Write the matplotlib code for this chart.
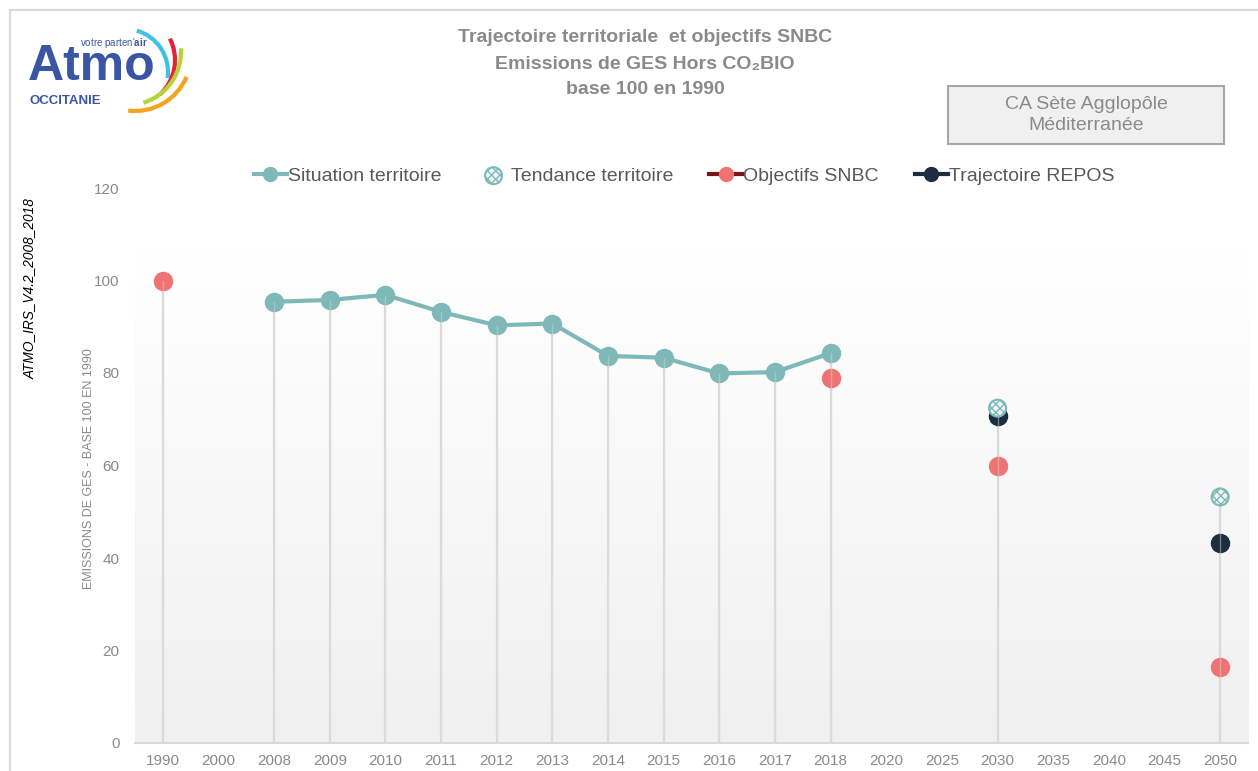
import numpy as np
import matplotlib
matplotlib.use('Agg')
import matplotlib.pyplot as plt
from matplotlib.lines import Line2D
from matplotlib.patches import Arc, Rectangle
from matplotlib.colors import LinearSegmentedColormap

nan = np.nan

# categories on the x axis
years = ['1990', '2000', '2008', '2009', '2010', '2011', '2012', '2013', '2014', '2015',
         '2016', '2017', '2018', '2020', '2025', '2030', '2035', '2040', '2045', '2050']

# values (base 100 in 1990)
situation = [nan, nan, 95.4, 95.8, 96.9, 93.2, 90.3, 90.7, 83.7, 83.3,
             79.9, 80.2, 84.3, nan, nan, nan, nan, nan, nan, nan]
tendance = [nan] * 15 + [72.4, nan, nan, nan, 53.2]
snbc = [100.0] + [nan] * 11 + [79.0, nan, nan, 59.9, nan, nan, nan, 16.5]
repos = [nan] * 15 + [70.8, nan, nan, nan, 43.2]

teal = '#7fb8b8'
salmon = '#f07373'
navy = '#1c2d3f'
darkred = '#7a1616'
grey_txt = '#8a8a8a'

plt.rcParams['font.family'] = ['Liberation Sans', 'DejaVu Sans']
plt.rcParams['mathtext.fontset'] = 'custom'
plt.rcParams['mathtext.rm'] = 'Liberation Sans'
plt.rcParams['mathtext.bf'] = 'Liberation Sans:bold'
plt.rcParams['hatch.linewidth'] = 1.0

fig = plt.figure(figsize=(12.58, 7.71), dpi=100)
fig.patch.set_facecolor('white')

x = np.arange(len(years))
sit = np.array(situation)
ten = np.array(tendance)
obj = np.array(snbc)
rep = np.array(repos)

ax = fig.add_axes([135 / 1258, 1 - 743 / 771, (1248 - 135) / 1258, (743 - 188) / 771])
ax.set_xlim(-0.5, len(years) - 0.5)
ax.set_ylim(0, 120)

# background gradient
grad = np.linspace(0, 1, 256).reshape(-1, 1)
cmap = LinearSegmentedColormap.from_list('bg', ['#f0f0f0', '#ffffff'])
ax.imshow(grad, extent=(-0.5, len(years) - 0.5, 0, 106.5), origin='lower',
          cmap=cmap, aspect='auto', zorder=0)

# drop lines from the highest point of each year down to zero
tops = np.nanmax(np.vstack([sit, ten, obj, rep]), axis=0)
has = ~np.isnan(tops)
ax.vlines(x[has], 0, tops[has], color='#dadada', lw=1.6, zorder=1)

ax.plot(x, sit, color=teal, lw=3, marker='o', ms=13, zorder=3)
ax.plot(x, obj, ls='none', marker='o', ms=13, color=salmon, zorder=3)
ax.plot(x, rep, ls='none', marker='o', ms=13, color=navy, zorder=3)
ax.vlines(x[has], 0, tops[has], color='#dadada', lw=1.0, alpha=0.45, zorder=4)
sc = ax.scatter(x, ten, s=150, facecolor='#eef6f6', edgecolor=teal, hatch='xxxx',
                linewidth=1.5, zorder=5)

ax.set_xticks(x)
ax.set_xticklabels(years)
ax.set_yticks(range(0, 121, 20))
ax.tick_params(axis='both', length=0, colors=grey_txt, labelsize=11)
ax.tick_params(axis='x', pad=8)
ax.tick_params(axis='y', pad=11)
for s in ['top', 'right', 'left']:
    ax.spines[s].set_visible(False)
ax.spines['bottom'].set_color('#d9d9d9')
ax.spines['bottom'].set_linewidth(1.5)
ax.set_ylabel('EMISSIONS DE GES - BASE 100 EN 1990', fontsize=9, color=grey_txt)
ax.yaxis.set_label_coords(-0.036, 0.495)

# legend
handles = [
    Line2D([0], [0], color=teal, lw=3, marker='o', ms=10),
    sc,
    Line2D([0], [0], color=darkred, lw=3, marker='o', ms=10, mfc=salmon, mec=salmon),
    Line2D([0], [0], color=navy, lw=3, marker='o', ms=10),
]
labels = ['Situation territoire', 'Tendance territoire', 'Objectifs SNBC', 'Trajectoire REPOS']
leg = fig.legend(handles, labels, loc='center', bbox_to_anchor=(684 / 1258, 1 - 176 / 771), ncol=4,
                 frameon=False, fontsize=14, handlelength=1.7, handletextpad=0.05,
                 columnspacing=1.85, scatterpoints=1)
for t in leg.get_texts():
    t.set_color('#595959')

# overlay in pixel coordinates for the frame
ov = fig.add_axes([0, 0, 1, 1], zorder=-1)
ov.set_xlim(0, 1258)
ov.set_ylim(771, 0)
ov.axis('off')
ov.plot([10, 10, 1258], [771, 10, 10], color='#d9d9d9', lw=1.5)

top = fig.add_axes([0, 0, 1, 1], zorder=10)
top.set_xlim(0, 1258)
top.set_ylim(771, 0)
top.axis('off')
top.patch.set_alpha(0)

title_kw = dict(ha='center', va='center', color=grey_txt, fontsize=14, fontweight='bold')
top.text(645, 38, 'Trajectoire territoriale  et objectifs SNBC', **title_kw)
top.text(645, 64, 'Emissions de GES Hors CO₂BIO', **title_kw)
top.text(645, 90, 'base 100 en 1990', **title_kw)

top.add_patch(Rectangle((948, 86), 276, 58, facecolor='#f0f0f0', edgecolor='#a6a6a6', lw=1.5))
top.text(1086, 115, 'CA Sète Agglopôle\nMéditerranée', ha='center', va='center',
         color=grey_txt, fontsize=14, linespacing=1.25)

top.text(30, 289, 'ATMO_IRS_V4.2_2008_2018', rotation=90, ha='center', va='center',
         fontsize=9.8, style='italic', color='black')

# logo
blue = '#3a55a4'
top.text(28, 80, 'Atmo', fontsize=36, fontweight='bold', color=blue, ha='left', va='baseline')
top.text(80, 46, r"votre parten'$\mathbf{air}$", fontsize=7, color=blue, ha='left', va='baseline')
top.text(30, 104, 'OCCITANIE', fontsize=9.5, color=blue, fontweight='bold', ha='left', va='baseline')
for cx, cy, r, a1, a2, col in [(125, 72, 43, -74, 8, '#3ec1e6'),
                               (128, 60, 47, -27, 47, '#e5213b'),
                               (128, 52, 53, -4, 73, '#b8d23a'),
                               (135, 55, 56, 23, 97, '#f5a31d')]:
    top.add_patch(Arc((cx, cy), 2 * r, 2 * r, theta1=a1, theta2=a2, color=col, lw=3))

fig.savefig('out.png', dpi=100)
